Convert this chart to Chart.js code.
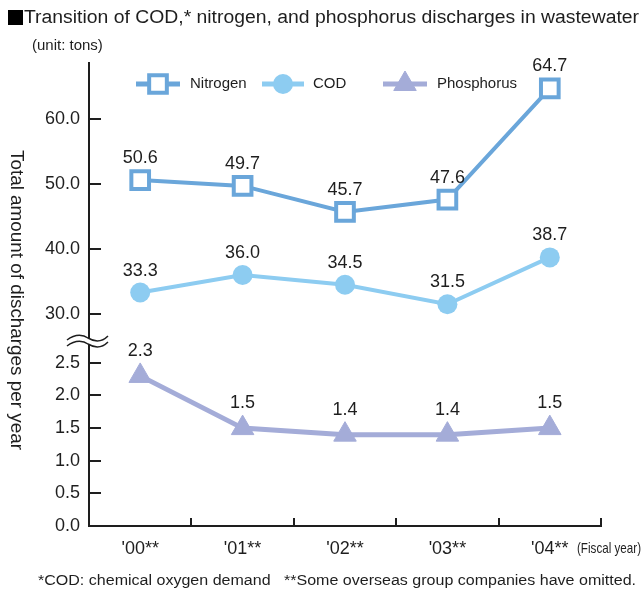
<!DOCTYPE html>
<html>
<head>
<meta charset="utf-8">
<style>
  html, body { margin: 0; padding: 0; background: #fff; }
  #wrap { width: 642px; height: 592px; }
  canvas { display: block; }
</style>
</head>
<body>
<div id="wrap"><canvas id="dischargeChart" width="642" height="592"></canvas></div>
<script src="https://cdn.jsdelivr.net/npm/chart.js@4.4.1/dist/chart.umd.min.js"></script>
<script>
// データ
const YEARS = ["'00**", "'01**", "'02**", "'03**", "'04**"];
const NITROGEN = [50.6, 49.7, 45.7, 47.6, 64.7];
const COD = [33.3, 36.0, 34.5, 31.5, 38.7];
const PHOSPHORUS = [2.3, 1.5, 1.4, 1.4, 1.5];
const UPPER_TICKS = [30, 40, 50, 60];
const LOWER_TICKS = [0, 0.5, 1.0, 1.5, 2.0, 2.5];

const FONT = "'Liberation Sans', Arial, Helvetica, sans-serif";
const INK = '#1e1e1e';
const NITROGEN_COLOR = '#6aa6da';
const COD_COLOR = '#8dccf1';
const PHOSPHORUS_COLOR = '#a4acd8';

// 横幅に合わせて文字を描く
function fitText(ctx, text, x, y, width) {
    const w = ctx.measureText(text).width;
    ctx.save();
    ctx.translate(x, y);
    ctx.scale(width / w, 1);
    ctx.textAlign = 'left';
    ctx.fillText(text, 0, 0);
    ctx.restore();
}

function drawMarker(ctx, ds, x, y) {
    ctx.save();
    ctx.fillStyle = ds.pointBackgroundColor;
    ctx.strokeStyle = ds.pointBorderColor;
    ctx.lineWidth = ds.pointBorderWidth;
    Chart.helpers.drawPoint(ctx, {
        pointStyle: ds.pointStyle,
        radius: ds.pointRadius,
        rotation: 0,
        borderWidth: ds.pointBorderWidth
    }, x, y);
    ctx.restore();
}

const decorPlugin = {
    id: 'decor',
    afterDatasetsDraw(chart) {
        const ctx = chart.ctx;
        const area = chart.chartArea;

        // 目盛り（内向き）
        ctx.save();
        ctx.strokeStyle = INK;
        ctx.lineWidth = 2;
        ['yHigh', 'yLow'].forEach(id => {
            const s = chart.scales[id];
            s.ticks.forEach(t => {
                const y = Math.round(s.getPixelForValue(t.value));
                ctx.beginPath();
                ctx.moveTo(area.left, y);
                ctx.lineTo(area.left + 12, y);
                ctx.stroke();
            });
        });
        const xs = chart.scales.x;
        for (let i = 0; i < YEARS.length; i++) {
            const bx = i < YEARS.length - 1
                ? Math.round((xs.getPixelForValue(i) + xs.getPixelForValue(i + 1)) / 2)
                : Math.round(area.right);
            ctx.beginPath();
            ctx.moveTo(bx, area.bottom);
            ctx.lineTo(bx, area.bottom - 8);
            ctx.stroke();
        }
        ctx.restore();

        // 軸の省略記号
        const by = Math.round(chart.scales.yLow.top) + 1;
        const wave = (dy) => {
            ctx.moveTo(67, by + dy + 2);
            ctx.bezierCurveTo(76, by + dy - 5, 84, by + dy - 3, 88, by + dy);
            ctx.bezierCurveTo(93, by + dy + 3, 101, by + dy + 5, 108, by + dy - 2);
        };
        ctx.save();
        ctx.fillStyle = '#fff';
        ctx.beginPath();
        wave(-3);
        ctx.lineTo(108, by + 1);
        ctx.bezierCurveTo(101, by + 8, 93, by + 6, 88, by + 3);
        ctx.bezierCurveTo(84, by, 76, by - 2, 67, by + 5);
        ctx.closePath();
        ctx.fill();
        ctx.strokeStyle = INK;
        ctx.lineWidth = 1.5;
        ctx.beginPath();
        wave(-3);
        ctx.stroke();
        ctx.beginPath();
        wave(3);
        ctx.stroke();
        ctx.restore();

        // データラベル
        ctx.save();
        ctx.fillStyle = INK;
        ctx.font = '18px ' + FONT;
        ctx.textAlign = 'center';
        ctx.textBaseline = 'alphabetic';
        chart.data.datasets.forEach((ds, di) => {
            const meta = chart.getDatasetMeta(di);
            const lift = ds.pointStyle === 'triangle' ? 20 : 17;
            meta.data.forEach((pt, i) => {
                ctx.fillText(ds.data[i].toFixed(1), pt.x, pt.y - lift);
            });
        });
        ctx.restore();

        // 凡例
        const legendY = 84;
        const legendItems = [
            { ds: chart.data.datasets[0], x0: 136, x1: 180, tx: 190 },
            { ds: chart.data.datasets[1], x0: 262, x1: 304, tx: 313 },
            { ds: chart.data.datasets[2], x0: 383, x1: 427, tx: 437 }
        ];
        legendItems.forEach(item => {
            ctx.save();
            ctx.strokeStyle = item.ds.borderColor;
            ctx.lineWidth = 5;
            ctx.beginPath();
            ctx.moveTo(item.x0, legendY);
            ctx.lineTo(item.x1, legendY);
            ctx.stroke();
            ctx.restore();
            drawMarker(ctx, item.ds, (item.x0 + item.x1) / 2, legendY);
            ctx.save();
            ctx.fillStyle = INK;
            ctx.font = '15px ' + FONT;
            ctx.textBaseline = 'middle';
            ctx.fillText(item.ds.label, item.tx, legendY);
            ctx.restore();
        });

        // タイトル・注記
        ctx.save();
        ctx.fillStyle = '#000';
        ctx.fillRect(8, 10, 15, 15);
        ctx.fillStyle = INK;
        ctx.textBaseline = 'middle';
        ctx.font = '18px ' + FONT;
        fitText(ctx, 'Transition of COD,* nitrogen, and phosphorus discharges in wastewater', 24, 18, 615);
        ctx.font = '15px ' + FONT;
        ctx.fillText('(unit: tons)', 32, 46);
        ctx.font = '15px ' + FONT;
        fitText(ctx, '(Fiscal year)', 577, 549, 64);
        ctx.font = '14px ' + FONT;
        fitText(ctx, '*COD: chemical oxygen demand   **Some overseas group companies have omitted.', 38, 581, 598);

        ctx.translate(16, 300);
        ctx.rotate(Math.PI / 2);
        ctx.font = '18px ' + FONT;
        fitText(ctx, 'Total amount of discharges per year', -150, 0, 300);
        ctx.restore();
    }
};

function yAxis(min, max, ticks, weight, stackWeight) {
    return {
        type: 'linear',
        position: 'left',
        stack: 'discharge',
        stackWeight: stackWeight,
        weight: weight,
        min: min,
        max: max,
        afterBuildTicks: scale => {
            scale.ticks = ticks.map(v => ({ value: v }));
        },
        afterFit: scale => {
            scale.width = 89;
        },
        grid: { drawOnChartArea: false, drawTicks: false },
        border: { display: true, color: INK, width: 2 },
        ticks: {
            autoSkip: false,
            padding: 9,
            color: INK,
            font: { family: FONT, size: 18 },
            callback: value => Number(value).toFixed(1)
        }
    };
}

const ctx = document.getElementById('dischargeChart').getContext('2d');
new Chart(ctx, {
    type: 'line',
    data: {
        labels: YEARS,
        datasets: [
            {
                label: 'Nitrogen',
                data: NITROGEN,
                yAxisID: 'yHigh',
                borderColor: NITROGEN_COLOR,
                borderWidth: 4,
                pointStyle: 'rect',
                pointRadius: 12.5,
                pointBorderWidth: 4,
                pointBackgroundColor: '#fff',
                pointBorderColor: NITROGEN_COLOR,
                tension: 0
            },
            {
                label: 'COD',
                data: COD,
                yAxisID: 'yHigh',
                borderColor: COD_COLOR,
                borderWidth: 4,
                pointStyle: 'circle',
                pointRadius: 10,
                pointBorderWidth: 0,
                pointBackgroundColor: COD_COLOR,
                pointBorderColor: COD_COLOR,
                tension: 0
            },
            {
                label: 'Phosphorus',
                data: PHOSPHORUS,
                yAxisID: 'yLow',
                borderColor: PHOSPHORUS_COLOR,
                borderWidth: 5,
                pointStyle: 'triangle',
                pointRadius: 13,
                pointBorderWidth: 1,
                pointBackgroundColor: PHOSPHORUS_COLOR,
                pointBorderColor: PHOSPHORUS_COLOR,
                tension: 0
            }
        ]
    },
    options: {
        responsive: false,
        animation: false,
        layout: { padding: { left: 0, right: 41, top: 63, bottom: 0 } },
        plugins: {
            legend: { display: false },
            tooltip: { enabled: false }
        },
        scales: {
            x: {
                type: 'category',
                offset: true,
                afterFit: scale => {
                    scale.height = 66;
                },
                grid: { drawOnChartArea: false, drawTicks: false, offset: true },
                border: { display: true, color: INK, width: 2 },
                ticks: {
                    autoSkip: false,
                    maxRotation: 0,
                    padding: 12,
                    color: INK,
                    font: { family: FONT, size: 18 }
                }
            },
            yLow: yAxis(0, 2.85, LOWER_TICKS, 1, 186),
            yHigh: yAxis(26, 68.6, UPPER_TICKS, 2, 277)
        }
    },
    plugins: [decorPlugin]
});
</script>
</body>
</html>
